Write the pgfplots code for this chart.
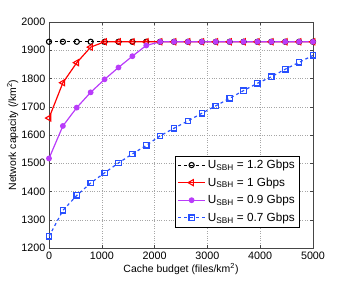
\documentclass[border=0pt]{standalone}
\usepackage{pgfplots}
\pgfplotsset{compat=1.18}
\usepackage{fontspec}
\setmainfont{Liberation Sans}
\definecolor{myblue}{RGB}{40,80,255}
\definecolor{mypurple}{RGB}{185,60,250}
\definecolor{axgray}{RGB}{70,70,70}
\begin{document}
\begin{tikzpicture}
\fontsize{10.5}{12}\selectfont
\begin{axis}[
  at={(0,0)}, anchor=south west,
  scale only axis,
  width=264bp, height=226bp,
  xmin=0, xmax=5000, ymin=1200, ymax=2000,
  xtick={0,1000,2000,3000,4000,5000},
  ytick={1200,1300,1400,1500,1600,1700,1800,1900,2000},
  /pgf/number format/assume math mode=true,
  /pgf/number format/1000 sep={},
  scaled ticks=false,
  tick label style={font=\fontsize{10.8}{12}\selectfont},
  label style={font=\fontsize{10.5}{12}\selectfont},
  xlabel={Cache budget (files/km\textsuperscript{2})},
  ylabel={Network capacity (/km\textsuperscript{2})},
  xlabel style={yshift=3pt},
  ylabel style={yshift=-4pt},
  grid=major,
  major grid style={dotted, gray!70},
  axis line style={axgray, line width=0.8pt},
  tick style={axgray},
  tick align=inside,
  major tick length=3pt,
  legend style={at={(0.947,0.093)}, anchor=south east, draw=black, fill=white,
    font=\fontsize{11.8}{13}\selectfont, inner xsep=2pt, inner ysep=2pt, row sep=3.5pt,
    cells={anchor=west}},
  legend image code/.code={\draw[mark repeat=2,mark phase=2] plot coordinates {(0cm,0cm) (0.48cm,0cm) (0.96cm,0cm)};},
]
\addplot[black, dashed, line width=1pt, mark=o, mark size=2.6pt, mark options={solid, fill=white, line width=1.1pt}]
coordinates {(0,1930)(263,1930)(526,1930)(789,1930)(1053,1930)(1316,1930)(1579,1930)(1842,1930)(2105,1930)(2368,1930)(2632,1930)(2895,1930)(3158,1930)(3421,1930)(3684,1930)(3947,1930)(4211,1930)(4474,1930)(4737,1930)(5000,1930)};
\addlegendentry{U\textsubscript{SBH} = 1.2 Gbps}
\addplot[red, solid, line width=1.2pt, mark=triangle, mark size=3.5pt, mark options={rotate=90, fill=white, line width=1.1pt}]
coordinates {(0,1660)(263,1785)(526,1856)(789,1911)(1053,1930)(1316,1930)(1579,1930)(1842,1930)(2105,1930)(2368,1930)(2632,1930)(2895,1930)(3158,1930)(3421,1930)(3684,1930)(3947,1930)(4211,1930)(4474,1930)(4737,1930)(5000,1930)};
\addlegendentry{U\textsubscript{SBH} = 1 Gbps}
\addplot[mypurple, solid, line width=1.2pt, mark=*, mark size=2.3pt]
coordinates {(0,1517)(263,1632)(526,1697)(789,1751)(1053,1797)(1316,1839)(1579,1879)(1842,1917)(2105,1930)(2368,1930)(2632,1930)(2895,1930)(3158,1930)(3421,1930)(3684,1930)(3947,1930)(4211,1930)(4474,1930)(4737,1930)(5000,1930)};
\addlegendentry{U\textsubscript{SBH} = 0.9 Gbps}
\addplot[myblue, dashed, line width=1.2pt, mark=square, mark size=2.7pt, mark options={solid, fill=white, line width=1.3pt}]
coordinates {(0,1241)(263,1333)(526,1386)(789,1430)(1053,1466)(1316,1501)(1579,1533)(1842,1563)(2105,1597)(2368,1624)(2632,1650)(2895,1677)(3158,1703)(3421,1730)(3684,1757)(3947,1783)(4211,1806)(4474,1833)(4737,1857)(5000,1882)};
\addlegendentry{U\textsubscript{SBH} = 0.7 Gbps}
\end{axis}
\path[use as bounding box] (-49bp,-33bp) rectangle (297bp,248bp);
\end{tikzpicture}
\end{document}
